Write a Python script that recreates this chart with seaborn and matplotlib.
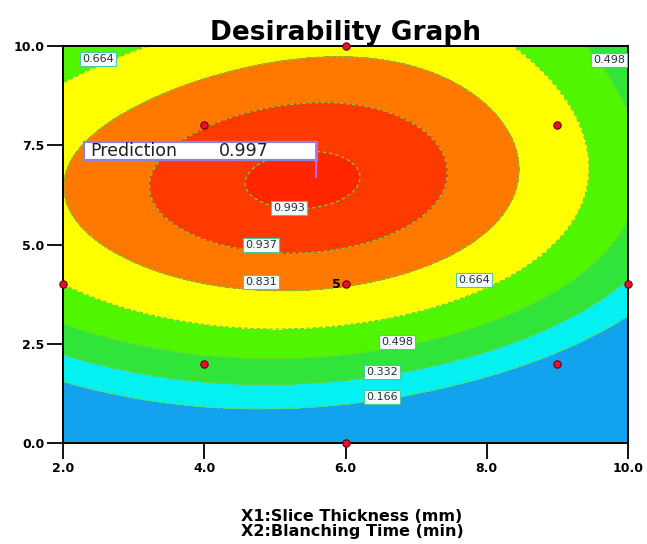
import numpy as np
import matplotlib
matplotlib.use("Agg")
import matplotlib.pyplot as plt
from matplotlib.patches import Rectangle
import seaborn as sns
import pandas as pd

# Desirability contour levels
levels = [0.166, 0.332, 0.498, 0.664, 0.831, 0.937, 0.993]
band_colors = ["#12a2ee", "#05f0f0", "#30e43a", "#50f500", "#ffff00",
               "#ff7800", "#ff3a00", "#ff2600"]

# Traced contour positions (X1 slice thickness, X2 blanching time) per level
c166_x1 = [2.0, 2.67, 3.98, 6.07, 8.74, 9.04, 10.0]
c166_x2 = [1.66, 1.51, 0.91, 0.91, 2.17, 2.42, 3.15]
c332_x1 = [2.0, 2.67, 3.98, 6.07, 8.74, 9.04, 10.0]
c332_x2 = [2.17, 2.02, 1.41, 1.51, 2.85, 3.17, 4.0]
c498_x1 = [2.0, 3.98, 6.07, 8.74, 9.5, 9.8, 9.88, 9.88]
c498_x2 = [3.02, 2.17, 2.27, 3.43, 4.2, 5.5, 7.0, 9.5]
c664_x1 = [2.0, 3.13, 8.15, 8.66, 9.14, 9.44, 9.42, 9.1, 8.05, 6.87, 6.02, 3.98, 2.67, 2.43, 2.0]
c664_x2 = [9.05, 10.0, 10.0, 9.32, 8.46, 7.38, 5.94, 5.0, 4.03, 3.35, 3.02, 2.92, 3.22, 3.43, 4.03]
c831_x1 = [2.14, 3.13, 4.32, 6.02, 7.34, 8.05, 8.37, 8.15, 7.48, 6.87, 6.0, 3.98, 2.67]
c831_x2 = [6.67, 8.46, 9.19, 9.71, 9.22, 8.46, 6.95, 5.44, 5.04, 4.56, 3.95, 4.41, 5.06]
c937_x1 = [3.18, 3.33, 3.98, 4.79, 6.02, 6.87, 7.42, 7.1, 6.07, 4.79, 3.52]
c937_x2 = [6.62, 7.38, 8.05, 8.45, 8.70, 8.34, 6.95, 5.37, 4.86, 5.04, 5.44]
c993_x1 = [4.59, 4.79, 5.43, 6.07, 6.28, 6.11, 5.43, 4.83]
c993_x2 = [6.40, 6.88, 7.11, 6.93, 6.50, 6.12, 5.74, 5.94]

# Optimum flag
pred_x1, pred_x2, pred_value = 5.58, 6.70, 0.997

# Design points and contour label spots
design_x1 = [2, 4, 4, 6, 6, 6, 9, 9, 10]
design_x2 = [4, 2, 8, 0, 4, 10, 2, 8, 4]
label_levels = [0.664, 0.498, 0.993, 0.937, 0.831, 0.664, 0.498, 0.332, 0.166]
label_x1 = [2.50, 9.73, 5.20, 4.80, 4.80, 7.82, 6.73, 6.52, 6.52]
label_x2 = [9.68, 9.65, 5.92, 4.99, 4.06, 4.10, 2.54, 1.79, 1.16]

xticks = [2.0, 4.0, 6.0, 8.0, 10.0]
yticks = [0.0, 2.5, 5.0, 7.5, 10.0]

traces = [(c166_x1, c166_x2, 0.166), (c332_x1, c332_x2, 0.332),
          (c498_x1, c498_x2, 0.498), (c664_x1, c664_x2, 0.664),
          (c831_x1, c831_x2, 0.831), (c937_x1, c937_x2, 0.937),
          (c993_x1, c993_x2, 0.993)]
pts = pd.concat(
    [pd.DataFrame({"x1": a, "x2": b, "d": lv}) for a, b, lv in traces]
    + [pd.DataFrame({"x1": [pred_x1], "x2": [pred_x2], "d": [pred_value]})],
    ignore_index=True)

DEG = 4
EXPO = 0.83   # shortfall (1 - d) ** EXPO grows like a quadratic away from the optimum


def basis(x1, x2):
    u = (np.asarray(x1, float) - 6.0) / 4.0
    v = (np.asarray(x2, float) - 5.0) / 5.0
    return np.stack([u ** i * v ** j for i in range(DEG + 1)
                     for j in range(DEG + 1 - i)], axis=-1)


# Quartic response surface for the desirability shortfall
q = (1.0 - pts.d.values) ** EXPO
A = basis(pts.x1, pts.x2)
w = 1.0 / np.sqrt(q + 0.01)
Aw = A * w[:, None]
coef = np.linalg.solve(Aw.T @ Aw + 1e-6 * np.eye(A.shape[1]), Aw.T @ (q * w))

g1, g2 = np.meshgrid(np.linspace(2, 10, 400), np.linspace(0, 10, 400))
Q = np.clip(basis(g1, g2) @ coef, 0.0, None)
D = np.clip(1.0 - Q ** (1.0 / EXPO), 0.0, 1.0)

sns.set_theme(style="white")
plt.rcParams["font.family"] = ["DejaVu Sans"]

fig = plt.figure(figsize=(6.47, 5.44), dpi=100)
ax = fig.add_axes([63 / 647, 1 - 443 / 544, 565 / 647, 397 / 544])

ax.contourf(g1, g2, D, levels=[-0.01] + levels + [1.01], colors=band_colors)
ax.contour(g1, g2, D, levels=levels, colors="#6fd04a", linewidths=0.9,
           linestyles=[(0, (3, 2))] * len(levels))

for lv, lx, ly in zip(label_levels, label_x1, label_x2):
    ax.text(lx, ly, f"{lv:.3f}", ha="center", va="center", fontsize=8,
            color="#303030",
            bbox=dict(boxstyle="square,pad=0.18", fc="#f4fbff", ec="#4cc9a0", lw=0.8))

design = pd.DataFrame({"x1": design_x1, "x2": design_x2})
sns.scatterplot(data=design, x="x1", y="x2", ax=ax, s=28, color="#e8102a",
                edgecolor="#6a0010", linewidth=0.8, marker="o", clip_on=False,
                zorder=6, legend=False)
ax.text(5.93, 4.0, "5", ha="right", va="center", fontsize=9, fontweight="bold",
        color="black")

# Prediction flag
ax.add_patch(Rectangle((2.30, 7.13), pred_x1 + 0.02 - 2.30, 0.46, fc="white",
                       ec="#8c82e6", lw=1.6, zorder=7))
ax.plot([pred_x1, pred_x1], [7.13, pred_x2], color="#c46ad8", lw=1.6, zorder=7)
ax.plot([pred_x1, pred_x1], [7.13, 7.59], color="#c46ad8", lw=2.0, zorder=8)
ax.text(2.38, 7.36, "Prediction", ha="left", va="center", fontsize=12.5,
        color="#202020", zorder=9)
ax.text(4.21, 7.36, f"{pred_value:.3f}", ha="left", va="center", fontsize=12.5,
        color="#202020", zorder=9)

ax.set_xlim(2, 10)
ax.set_ylim(0, 10)
ax.set_xticks(xticks)
ax.set_yticks(yticks)
ax.set_xticklabels([f"{t:.1f}" for t in xticks], fontweight="bold", fontsize=9,
                   color="black")
ax.set_yticklabels([f"{t:.1f}" for t in yticks], fontweight="bold", fontsize=9,
                   color="black")
ax.tick_params(axis="both", direction="out", length=11.5, width=1.3,
               color="black", pad=2, bottom=True, left=True)
for s in ax.spines.values():
    s.set_color("black")
    s.set_linewidth(1.4)
ax.set_xlabel("")
ax.set_ylabel("")
ax.set_title("Desirability Graph", fontsize=19, fontweight="bold", pad=4,
             color="black")
fig.text(352 / 647, 1 - 524 / 544,
         "X1:Slice Thickness (mm)\nX2:Blanching Time (min)",
         ha="center", va="center", fontsize=11.5, fontweight="bold",
         linespacing=0.95, color="black")

fig.savefig("out.png", dpi=100)
